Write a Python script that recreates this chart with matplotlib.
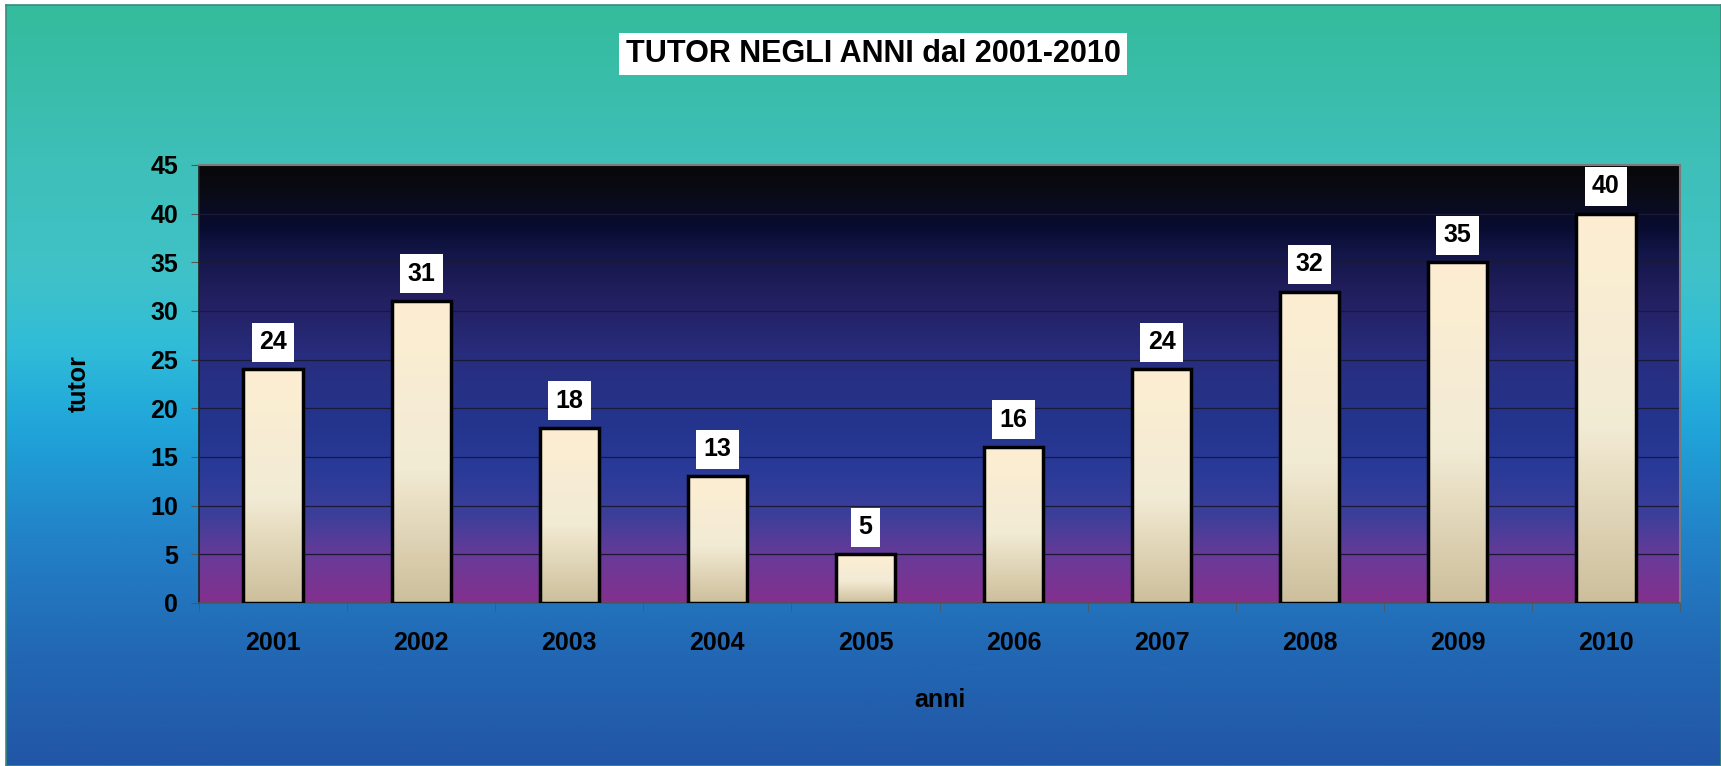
import numpy as np
import matplotlib
matplotlib.use('Agg')
import matplotlib.pyplot as plt
from matplotlib.colors import LinearSegmentedColormap

plt.rcParams['font.family'] = ['Liberation Sans', 'DejaVu Sans']
plt.rcParams['font.weight'] = 'bold'

# data
anni = ['2001', '2002', '2003', '2004', '2005', '2006', '2007', '2008', '2009', '2010']
tutor = [24, 31, 18, 13, 5, 16, 24, 32, 35, 40]
y_ticks = [0, 5, 10, 15, 20, 25, 30, 35, 40, 45]

W, H = 1721, 766
fig = plt.figure(figsize=(W / 100, H / 100), dpi=100, facecolor='white')

# outer gradient background
bg = fig.add_axes([6 / W, 0, 1 - 6 / W, 1 - 5 / H], zorder=-10)
bg_cmap = LinearSegmentedColormap.from_list('bg', [
    (0.0, '#2256a6'), (0.15, '#2268b4'), (0.3, '#2282c8'), (0.45, '#20a6da'),
    (0.55, '#30bcd8'), (0.65, '#40c2c8'), (0.8, '#3ebfb8'), (1.0, '#34bc9c')])
bg.imshow(np.linspace(0, 1, 256).reshape(-1, 1), cmap=bg_cmap, origin='lower',
          aspect='auto', extent=[0, 1, 0, 1])
bg.set_xticks([])
bg.set_yticks([])
for s in bg.spines.values():
    s.set_color('#3a8a80')
    s.set_linewidth(1.2)

# plot area
ax = fig.add_axes([199 / W, 163 / H, (1680 - 199) / W, (601 - 163) / H])
plot_cmap = LinearSegmentedColormap.from_list('plot', [
    (0.0, '#84308e'), (0.1, '#6a3a98'), (0.2, '#3c3f9a'), (0.3, '#2a3a98'),
    (0.4, '#24358e'), (0.55, '#282e80'), (0.7, '#231f60'), (0.8, '#131648'),
    (0.86, '#080c30'), (0.93, '#0b0b18'), (1.0, '#080808')])
ax.imshow(np.linspace(0, 1, 256).reshape(-1, 1), cmap=plot_cmap, origin='lower',
          aspect='auto', extent=[0, 1, 0, 1], transform=ax.transAxes, zorder=0)

x = np.arange(len(anni))
bars = ax.bar(x, tutor, width=0.4, facecolor='none', edgecolor='black',
              linewidth=2.5, zorder=3)

bar_cmap = LinearSegmentedColormap.from_list('bar', [
    (0.0, '#cdbf9c'), (0.3, '#e6dcc0'), (0.45, '#f2ebd5'), (1.0, '#fdeed2')])
for b in bars:
    x0, y0 = b.get_x(), b.get_y()
    im = ax.imshow(np.linspace(0, 1, 128).reshape(-1, 1), cmap=bar_cmap,
                   origin='lower', aspect='auto',
                   extent=[x0, x0 + b.get_width(), y0, y0 + b.get_height()],
                   zorder=2)
    im.set_clip_path(b)

for xi, v in zip(x, tutor):
    ax.annotate(str(v), (xi, v), xytext=(0, 11), textcoords='offset points',
                ha='center', va='bottom', fontsize=18, fontweight='bold',
                bbox=dict(boxstyle='square,pad=0.3', fc='white', ec='none'),
                zorder=5)

ax.set_xlim(-0.5, len(anni) - 0.5)
ax.set_ylim(0, 45)
ax.set_yticks(y_ticks)
ax.set_yticklabels([str(t) for t in y_ticks], fontsize=18, fontweight='bold')
ax.set_xticks(x)
ax.set_xticklabels(anni, fontsize=18, fontweight='bold')
ax.set_xticks(np.arange(len(anni) + 1) - 0.5, minor=True)
ax.tick_params(axis='x', which='major', length=0, pad=20)
ax.tick_params(axis='x', which='minor', length=6, direction='out', color='#555555')
ax.tick_params(axis='y', length=6, direction='out', color='#555555', pad=9)
ax.set_axisbelow(True)
ax.grid(axis='y', color='#1a1a38', linewidth=0.9)

for side in ['top', 'right']:
    ax.spines[side].set_color('#7a7a7a')
    ax.spines[side].set_linewidth(1.5)
ax.spines['left'].set_color('#222222')
ax.spines['bottom'].set_color('#555555')
ax.spines['left'].set_linewidth(1.2)
ax.spines['bottom'].set_linewidth(1.2)

ax.set_xlabel('anni', fontsize=18, fontweight='bold', labelpad=24)
ax.set_ylabel('tutor', fontsize=18, fontweight='bold', labelpad=43)

fig.text(873 / W, 1 - 54 / H, 'TUTOR NEGLI ANNI dal 2001-2010', ha='center',
         va='center', fontsize=22, fontweight='bold',
         bbox=dict(boxstyle='square,pad=0.2', fc='white', ec='none'))

fig.savefig('out.png', dpi=100, facecolor=fig.get_facecolor())
